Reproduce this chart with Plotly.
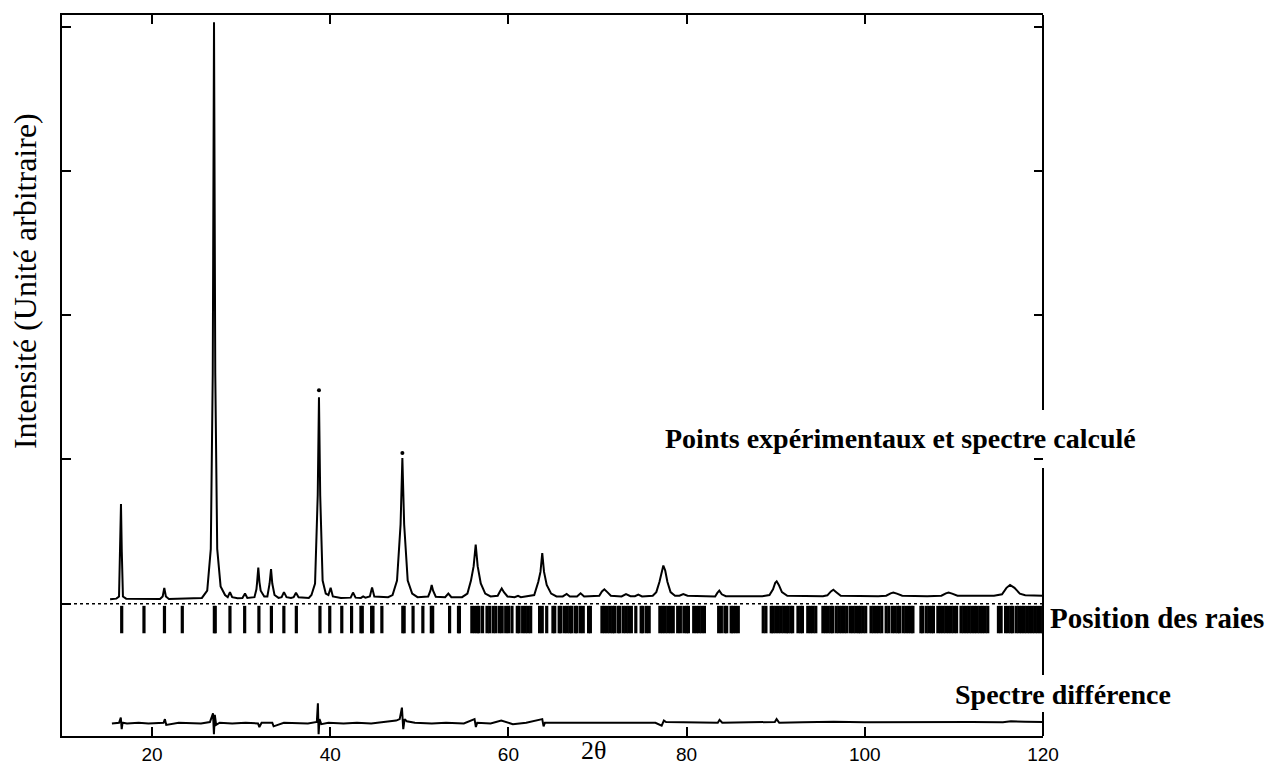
import plotly.graph_objects as go

# ---- calculated profile (2theta, intensity) ----
calc_2theta = [15.3, 16.0, 16.3, 16.43, 16.52, 16.61, 16.74, 17.1,
               20.9, 21.2, 21.38, 21.56, 21.9,
               25.6, 26.2, 26.6, 26.82, 26.96, 27.1, 27.32, 27.7, 28.2,
               28.5, 28.75, 29.0, 29.6, 30.15, 30.44, 30.7,
               31.5, 31.72, 31.8, 31.93, 32.06, 32.2, 32.6,
               32.95, 33.2, 33.36, 33.5, 33.75, 34.2,
               34.55, 34.81, 35.1, 35.6, 35.9, 36.16, 36.45, 37.6,
               37.9, 38.3, 38.6, 38.74, 38.88, 39.15, 39.5,
               39.8, 40.05, 40.3, 41.2, 42.3, 42.56, 42.85,
               43.45, 43.7, 43.95, 44.45, 44.7, 44.95, 46.5,
               47.0, 47.5, 47.9, 48.1, 48.3, 48.7, 49.2, 49.8,
               51.0, 51.25, 51.39, 51.55, 51.85, 52.9, 53.26, 53.6, 54.8,
               55.4, 55.8, 56.1, 56.33, 56.55, 56.9, 57.4, 58.0,
               58.8, 59.05, 59.25, 59.5, 59.9, 60.7, 61.08, 61.4,
               62.9, 63.35, 63.6, 63.8, 64.0, 64.3, 64.8, 65.4,
               66.1, 66.54, 66.9, 67.7, 68.1, 68.5, 69.6,
               70.2, 70.5, 70.77, 71.1, 71.5, 72.7, 73.2, 73.7,
               74.2, 74.58, 75.0, 76.2,
               76.6, 76.95, 77.2, 77.39, 77.6, 77.85, 78.2, 78.7,
               79.2, 79.63, 80.1, 82.0, 83.2, 83.45, 83.67, 83.95, 84.4, 88.5,
               89.3, 89.7, 89.95, 90.11, 90.35, 90.7, 91.3, 95.3,
               95.8, 96.2, 96.47, 96.8, 97.3, 101.5,
               102.4, 102.9, 103.2, 103.6, 104.2, 107.0,
               108.6, 109.1, 109.4, 109.8, 110.4, 114.5,
               115.4, 115.9, 116.3, 116.8, 117.4, 118.0, 120.0]
calc_intensity = [0.03, 0.035, 0.05, 0.36, 0.69, 0.36, 0.05, 0.035,
                  0.032, 0.05, 0.11, 0.05, 0.033,
                  0.04, 0.09, 0.38, 1.6, 4.03, 1.6, 0.38, 0.12, 0.06,
                  0.045, 0.08, 0.045, 0.038, 0.04, 0.07, 0.04,
                  0.045, 0.1, 0.15, 0.25, 0.15, 0.09, 0.05,
                  0.05, 0.14, 0.24, 0.14, 0.06, 0.04,
                  0.045, 0.08, 0.045, 0.04, 0.045, 0.076, 0.045, 0.04,
                  0.06, 0.14, 0.75, 1.43, 0.75, 0.16, 0.07,
                  0.06, 0.11, 0.05, 0.04, 0.042, 0.077, 0.042,
                  0.04, 0.05, 0.042, 0.05, 0.113, 0.05, 0.045,
                  0.06, 0.16, 0.55, 1.01, 0.55, 0.16, 0.07, 0.045,
                  0.05, 0.09, 0.13, 0.09, 0.048, 0.045, 0.07, 0.045, 0.045,
                  0.07, 0.16, 0.26, 0.41, 0.26, 0.14, 0.07, 0.05,
                  0.055, 0.085, 0.106, 0.08, 0.05, 0.045, 0.055, 0.045,
                  0.06, 0.15, 0.22, 0.35, 0.22, 0.13, 0.07, 0.05,
                  0.05, 0.067, 0.05, 0.05, 0.072, 0.05, 0.05,
                  0.055, 0.085, 0.1, 0.08, 0.055, 0.05, 0.067, 0.052,
                  0.052, 0.063, 0.05, 0.055,
                  0.08, 0.15, 0.23, 0.264, 0.23, 0.15, 0.08, 0.055,
                  0.055, 0.067, 0.055, 0.052, 0.05, 0.075, 0.09, 0.065, 0.052, 0.052,
                  0.06, 0.1, 0.145, 0.155, 0.13, 0.08, 0.055, 0.052,
                  0.058, 0.085, 0.097, 0.08, 0.055, 0.052,
                  0.055, 0.072, 0.078, 0.07, 0.055, 0.052,
                  0.055, 0.072, 0.078, 0.07, 0.055, 0.055,
                  0.065, 0.11, 0.13, 0.11, 0.07, 0.058, 0.055]

# ---- experimental points visible above the calculated curve ----
obs_2theta = [38.74, 48.1]
obs_intensity = [1.48, 1.045]

# ---- reflection positions (Position des raies) ----
reflections = [16.6, 19.1, 21.4, 23.4, 27.0, 27.1, 28.75, 30.4, 32.0, 33.4, 34.8, 36.2,
               38.85, 39.95, 41.3, 42.4, 43.45, 43.6, 44.65, 44.8, 45.8, 48.15, 48.3,
               49.3, 50.4, 51.35, 51.5, 53.4, 54.4, 54.5,
               55.9, 56.2, 56.5, 56.7, 57.1, 57.6, 57.9, 58.3, 58.6, 59.0, 59.3, 59.7, 60.0,
               60.4, 61.0, 61.2, 61.6, 61.9, 62.2, 62.5,
               63.5, 63.8, 64.3, 65.0, 65.2, 65.7, 65.9, 66.3, 66.6, 66.9, 67.1, 67.5,
               67.7, 68.1, 68.4, 69.0, 69.2,
               70.5, 70.8, 71.1, 71.4, 71.7, 71.9, 72.3, 72.5, 72.9, 73.2, 73.5, 73.8,
               74.3, 74.9, 75.1, 75.5, 75.8,
               77.0, 77.3, 77.6, 77.9, 78.2, 78.5, 79.0, 79.3, 79.7, 80.0, 80.2, 80.8,
               81.1, 81.4, 81.7, 82.0,
               83.6, 83.9, 84.3, 84.5, 85.0, 85.2, 85.5, 85.8,
               88.6, 88.9, 89.5, 89.7, 90.0, 90.3, 90.6, 90.9, 91.2, 91.4, 91.7, 91.9,
               92.5, 92.8, 93.0, 93.6, 93.9, 94.2, 94.5,
               95.3, 95.6, 95.9, 96.2, 96.4, 96.8, 97.1, 97.4, 97.7, 98.0, 98.4, 98.7,
               99.0, 99.3, 99.5, 99.8, 100.1, 100.7, 101.0, 101.3, 101.6, 101.9,
               102.4, 102.7, 103.1, 103.4, 103.7, 103.9, 104.3, 104.6, 104.9, 105.2,
               105.4, 106.3, 106.5, 106.9, 107.2, 107.5, 107.7, 108.2, 108.5, 108.8,
               109.1, 109.4, 109.7, 110.0, 110.3,
               110.8, 111.1, 111.4, 111.7, 112.0, 112.3, 112.6, 112.9, 113.2, 113.5, 113.8,
               115.0, 115.3, 115.8, 116.1, 116.4, 116.6, 117.0, 117.3, 117.6, 117.9,
               118.2, 118.5, 118.8, 119.1, 119.4, 119.7, 120.0]
tick_top = -0.015
tick_bottom = -0.205

# ---- difference curve ----
diff_2theta = [15.5, 16.3, 16.5, 16.6, 16.7, 17.2, 18.5, 19.6, 21.3, 21.45, 21.6, 23.0,
               25.5, 26.5, 26.85, 26.95, 27.05, 27.2, 27.6, 29.0, 30.5, 31.9, 32.05, 32.3,
               33.5, 33.65, 34.8, 36.0, 37.5, 38.5, 38.62, 38.7, 38.8, 39.0, 39.8, 41.5,
               43.0, 44.6, 46.0, 47.4, 47.8, 48.05, 48.2, 48.35, 48.6, 49.5, 51.4, 53.0,
               55.0, 56.2, 56.35, 56.5, 58.0, 59.2, 60.5, 62.0, 63.8, 63.95, 64.1, 65.5, 68.0,
               71.0, 74.0, 76.5, 77.2, 77.45, 77.7, 80.0, 83.5, 83.7, 84.0, 87.0, 89.9,
               90.1, 90.4, 93.0, 96.5, 100.0, 104.0, 108.0, 112.0, 115.5, 116.4, 118.0, 120.0]
diff_intensity = [-0.83, -0.825, -0.79, -0.87, -0.825, -0.83, -0.825, -0.83, -0.825, -0.80, -0.84, -0.825,
                  -0.83, -0.82, -0.76, -0.905, -0.77, -0.84, -0.825, -0.83, -0.825, -0.83, -0.855, -0.825,
                  -0.825, -0.85, -0.825, -0.825, -0.83, -0.82, -0.69, -0.905, -0.80, -0.835, -0.825, -0.83,
                  -0.825, -0.83, -0.82, -0.81, -0.80, -0.72, -0.87, -0.80, -0.815, -0.825, -0.83, -0.825,
                  -0.83, -0.80, -0.855, -0.825, -0.83, -0.81, -0.835, -0.825, -0.80, -0.85, -0.825, -0.825, -0.83,
                  -0.825, -0.83, -0.825, -0.845, -0.81, -0.82, -0.82, -0.825, -0.805, -0.825, -0.822, -0.82,
                  -0.80, -0.825, -0.822, -0.818, -0.822, -0.82, -0.822, -0.82, -0.822, -0.815, -0.818, -0.82]

x_tick_vals = [20, 40, 60, 80, 100, 120]
x_tick_text = ["20", "40", "60", "80", "100", "120"]
y_tick_vals = [0, 1, 2, 3, 4]
y_right_tick_vals = [1, 2, 3, 4]

x_range = [9.9, 120.0]
y_range = [-0.917, 4.08]

# build reflection tick segments
refl_x, refl_y = [], []
for r in reflections:
    refl_x += [r, r, None]
    refl_y += [tick_top, tick_bottom, None]

fig = go.Figure()
fig.add_trace(go.Scatter(x=x_range, y=[0, 0], mode="lines",
                         line=dict(color="black", width=1.5, dash="dot"),
                         hoverinfo="skip", showlegend=False))
fig.add_trace(go.Scatter(x=refl_x, y=refl_y, mode="lines",
                         line=dict(color="black", width=3.2),
                         hoverinfo="skip", showlegend=False))
fig.add_trace(go.Scatter(x=calc_2theta, y=calc_intensity, mode="lines",
                         line=dict(color="black", width=2),
                         showlegend=False))
fig.add_trace(go.Scatter(x=obs_2theta, y=obs_intensity, mode="markers",
                         marker=dict(color="black", size=4),
                         showlegend=False))
fig.add_trace(go.Scatter(x=diff_2theta, y=diff_intensity, mode="lines",
                         line=dict(color="black", width=2),
                         showlegend=False))
fig.add_trace(go.Scatter(x=[None], y=[None], yaxis="y2", showlegend=False,
                         hoverinfo="skip"))

serif = "Liberation Serif, Times New Roman, serif"

fig.update_layout(
    width=1270, height=768,
    margin=dict(l=62, r=227, t=15, b=32, autoexpand=False),
    paper_bgcolor="white", plot_bgcolor="white",
    showlegend=False,
    xaxis=dict(range=x_range, tickvals=x_tick_vals, ticktext=x_tick_text,
               ticks="inside", ticklen=9, tickwidth=2, tickcolor="black",
               showline=True, linewidth=2, linecolor="black", mirror="ticks",
               showgrid=False, zeroline=False, ticklabelstandoff=0, automargin=False,
               tickfont=dict(family="Liberation Sans, Arial, sans-serif", size=19, color="black")),
    yaxis=dict(range=y_range, tickvals=y_tick_vals, showticklabels=False,
               ticks="inside", ticklen=9, tickwidth=2, tickcolor="black",
               showline=True, linewidth=2, linecolor="black", mirror=False,
               showgrid=False, zeroline=False, automargin=False),
    yaxis2=dict(range=y_range, overlaying="y", side="right", tickvals=y_right_tick_vals,
                showticklabels=False, ticks="inside", ticklen=9, tickwidth=2,
                tickcolor="black", showline=False, showgrid=False, zeroline=False,
                automargin=False),
)

# right frame, interrupted by the labels
for y0, y1 in [(0.452, 1.0), (0.0846, 0.3717), (0.0, 0.0333)]:
    fig.add_shape(type="line", xref="paper", yref="paper", x0=1, x1=1, y0=y0, y1=y1,
                  line=dict(color="black", width=2))

fig.add_annotation(text="Intensité (Unité arbitraire)", xref="paper", yref="paper",
                   x=-0.0377, y=0.631, textangle=-90, showarrow=False,
                   xanchor="center", yanchor="middle",
                   font=dict(family=serif, size=32, color="black"))
fig.add_annotation(text="2θ", xref="paper", yref="paper", x=0.5423, y=-0.0208,
                   showarrow=False, xanchor="center", yanchor="middle",
                   font=dict(family=serif, size=26, color="black"))
fig.add_annotation(text="<b>Points expérimentaux et spectre calculé</b>", xref="paper", yref="paper",
                   x=1.0968, y=(736 - 438) / 721, showarrow=False, xanchor="right", yanchor="middle",
                   font=dict(family=serif, size=28, color="black"))
fig.add_annotation(text="<b>Position des raies</b>", xref="paper", yref="paper",
                   x=1.0051, y=0.1637, showarrow=False, xanchor="left", yanchor="middle",
                   font=dict(family=serif, size=29, color="black"))
fig.add_annotation(text="<b>Spectre différence</b>", xref="paper", yref="paper",
                   x=0.9083, y=0.0569, showarrow=False, xanchor="left", yanchor="middle",
                   font=dict(family=serif, size=28, color="black"))

fig.write_html("out.html")
